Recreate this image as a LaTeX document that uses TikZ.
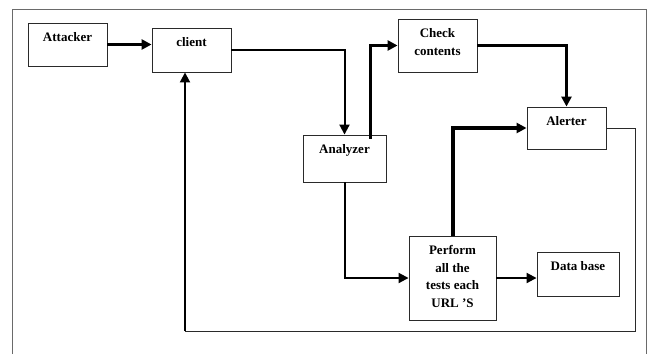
\documentclass[tikz,border=0pt]{standalone}
\usepackage{fontspec}
\setmainfont{Liberation Serif}
\usepackage{tikz}
\usetikzlibrary{arrows.meta,positioning}
\definecolor{frame}{HTML}{6A6A6A}
\definecolor{edge}{HTML}{2A2A2A}

\begin{document}
\begin{tikzpicture}[x=1pt,y=-1pt,>={Triangle[length=10pt,width=10pt]},
box/.style={draw=edge,line width=0.9pt,minimum width=79pt,minimum height=44pt,inner sep=0pt},
txt/.style={inner sep=0pt,align=center,font=\fontsize{13}{17.5}\selectfont\bfseries},
link/.style={line width=2pt,black},
heavy/.style={line width=3pt,black},
faint/.style={line width=0.9pt,edge}]
\useasboundingbox (0,0) rectangle (648,354);
\draw[frame,line width=1pt] (12,354) -- (12,9) -- (646,9) -- (646,354);
% boxes
\node[box,minimum height=43pt] (attacker) at (67.5,44.5) {};
\node[box] (client) at (191.5,50) {};
\node[box,minimum height=53pt] (check) at (437.5,45.5) {};
\node[box,minimum height=42pt] (alerter) at (566.5,128) {};
\node[box,minimum width=83pt,minimum height=47pt] (analyzer) at (344.5,158.5) {};
\node[box,minimum width=87pt,minimum height=84pt] (perform) at (452.5,278) {};
\node[box,minimum width=82pt] (database) at (578,274) {};
% texts
\node[txt,below=10pt of attacker.north] (attacker-t) {Attacker};
\node[txt,below=10pt of client.north] (client-t) {client};
\node[txt,below=10pt of check.north] (check-t) {Check\\contents};
\node[txt,below=10pt of alerter.north] (alerter-t) {Alerter};
\node[txt,below=10pt of analyzer.north] (analyzer-t) {Analyzer};
\node[txt,below=10pt of perform.north] (perform-t) {Perform\\all the\\tests each\\URL 'S};
\node[txt,below=10pt of database.north] (database-t) {Data base};
% connectors
\coordinate (loop) at (185,331);
\draw[heavy,->] (attacker.east) -- (attacker.east -| client.west);
\draw[link,->] (client.east) -| (analyzer.north);
\draw[heavy,->] ([xshift=25.5pt,yshift=-4pt]analyzer.north) |- (check.west);
\draw[heavy,->] (check.east) -| (alerter.north);
\draw[line width=4pt,->] (perform.north) |- (alerter.west);
\draw[link,->] (analyzer.south) |- (perform.west);
\draw[link,->] (perform.east) -- (perform.east -| database.west);
\draw[faint] (alerter.east) -- ++(29,0) |- (loop);
\draw[link,->] (loop) -- (loop |- client.south);
\end{tikzpicture}
\end{document}
